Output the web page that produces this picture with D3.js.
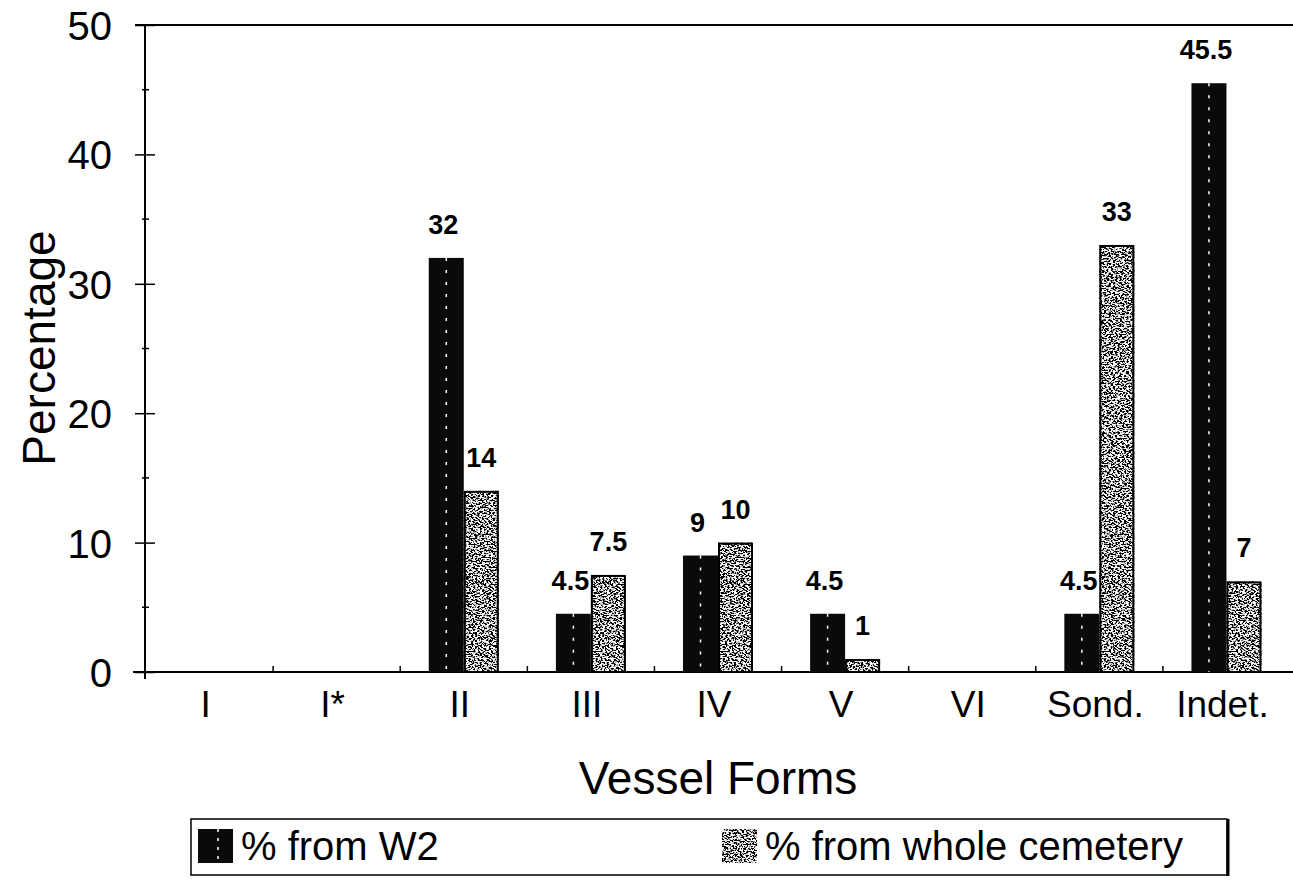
<!DOCTYPE html>
<html>
<head>
<meta charset="utf-8">
<script src="https://cdn.jsdelivr.net/npm/d3@7"></script>
<style>
    body { margin: 0; background: #fff; }
    text { font-family: "Liberation Sans", Arial, sans-serif; fill: #000; }
</style>
</head>
<body>
<svg id="chart"></svg>
<script>
    //-------------------
    // DATA
    //-------------------
    var categories = ["I", "I*", "II", "III", "IV", "V", "VI", "Sond.", "Indet."];
    var fromW2 = [null, null, 32, 4.5, 9, 4.5, null, 4.5, 45.5];
    var fromCemetery = [null, null, 14, 7.5, 10, 1, null, 33, 7];
    var seriesNames = ["% from W2", "% from whole cemetery"];
    var yTicks = [0, 10, 20, 30, 40, 50];

    //-------------------
    // SETUP
    //-------------------
    var width = 1293, height = 881;
    var plot = { left: 145, right: 1290, top: 25, bottom: 672 };

    var svg = d3.select("#chart")
        .attr("width", width)
        .attr("height", height);

    var defs = svg.append("defs");

    // speckled texture for the "whole cemetery" bars
    var filter = defs.append("filter")
        .attr("id", "speckle")
        .attr("x", 0).attr("y", 0).attr("width", 1).attr("height", 1);
    filter.append("feTurbulence")
        .attr("type", "fractalNoise")
        .attr("baseFrequency", "0.45 0.7")
        .attr("numOctaves", 2)
        .attr("seed", 7)
        .attr("result", "noise");
    filter.append("feColorMatrix")
        .attr("in", "noise")
        .attr("type", "matrix")
        .attr("values", "0 0 0 0 0  0 0 0 0 0  0 0 0 0 0  -9 0 0 0 5.1")
        .attr("result", "dots");
    filter.append("feFlood").attr("flood-color", "#fff").attr("result", "white");
    filter.append("feComposite").attr("in", "dots").attr("in2", "white").attr("operator", "over").attr("result", "tex");
    filter.append("feComposite").attr("in", "tex").attr("in2", "SourceGraphic").attr("operator", "in");

    var x = d3.scaleBand()
        .domain(categories)
        .range([plot.left + 1, plot.right]);

    var barW = 35;
    var x1 = d3.scaleBand()
        .domain([0, 1])
        .range([x.bandwidth() / 2 - barW, x.bandwidth() / 2 + barW]);

    var y = d3.scaleLinear()
        .domain([0, 50])
        .range([plot.bottom, plot.top]);

    //-------------------
    // AXES
    //-------------------
    // top border
    svg.append("line")
        .attr("x1", plot.left - 10).attr("x2", width)
        .attr("y1", y(50)).attr("y2", y(50))
        .attr("stroke", "#000").attr("stroke-width", 2);

    var yAxis = d3.axisLeft(y)
        .tickValues(yTicks)
        .tickSizeInner(10)
        .tickSizeOuter(0)
        .tickPadding(23);

    var gy = svg.append("g")
        .attr("transform", "translate(" + plot.left + ",0)")
        .call(yAxis);
    gy.select(".domain").remove();
    gy.selectAll(".tick line").attr("x2", 10).attr("x1", -10).attr("stroke-width", 1.5);
    gy.selectAll(".tick text")
        .style("font-size", "40px")
        .attr("dy", "0.36em");

    // y axis line
    svg.append("line")
        .attr("x1", plot.left).attr("x2", plot.left)
        .attr("y1", y(50)).attr("y2", plot.bottom + 7)
        .attr("stroke", "#000").attr("stroke-width", 2);

    // minor ticks
    svg.selectAll("line.minor")
        .data(d3.range(5, 50, 10))
        .enter().append("line")
        .attr("class", "minor")
        .attr("x1", plot.left - 3).attr("x2", plot.left + 4)
        .attr("y1", d => y(d)).attr("y2", d => y(d))
        .attr("stroke", "#000").attr("stroke-width", 1.5);

    // x axis line
    svg.append("line")
        .attr("x1", plot.left - 12).attr("x2", width)
        .attr("y1", plot.bottom).attr("y2", plot.bottom)
        .attr("stroke", "#000").attr("stroke-width", 2);

    // band divider ticks
    svg.selectAll("line.divider")
        .data(categories.slice(1))
        .enter().append("line")
        .attr("class", "divider")
        .attr("x1", d => x(d)).attr("x2", d => x(d))
        .attr("y1", plot.bottom).attr("y2", plot.bottom - 6)
        .attr("stroke", "#000").attr("stroke-width", 1.5);

    // category labels
    svg.selectAll("text.cat")
        .data(categories)
        .enter().append("text")
        .attr("class", "cat")
        .attr("x", d => x(d) + x.bandwidth() / 2 - 4)
        .attr("y", 717)
        .attr("text-anchor", "middle")
        .style("font-size", "37px")
        .text(d => d);

    // axis titles
    svg.append("text")
        .attr("x", 718).attr("y", 794)
        .attr("text-anchor", "middle")
        .style("font-size", "46px")
        .text("Vessel Forms");

    svg.append("text")
        .attr("transform", "translate(55,348) rotate(-90)")
        .attr("text-anchor", "middle")
        .style("font-size", "46px")
        .text("Percentage");

    //-------------------
    // BARS
    //-------------------
    var rows = categories.map((c, i) => ({ cat: c, vals: [fromW2[i], fromCemetery[i]] }));

    var groups = svg.selectAll("g.cat")
        .data(rows)
        .enter().append("g")
        .attr("class", "cat")
        .attr("transform", d => "translate(" + x(d.cat) + ",0)");

    var bars = groups.selectAll("g.bar")
        .data(d => d.vals.map((v, s) => ({ v: v, s: s })).filter(e => e.v !== null))
        .enter().append("g")
        .attr("class", "bar");

    bars.filter(d => d.s === 0).append("rect")
        .attr("x", d => x1(d.s))
        .attr("y", d => y(d.v))
        .attr("width", x1.bandwidth())
        .attr("height", d => plot.bottom - y(d.v))
        .attr("fill", "#0a0a0a");

    // white streak in the black bars
    bars.filter(d => d.s === 0).append("line")
        .attr("x1", d => x1(d.s) + x1.bandwidth() * 0.5)
        .attr("x2", d => x1(d.s) + x1.bandwidth() * 0.5)
        .attr("y1", d => y(d.v))
        .attr("y2", plot.bottom)
        .attr("stroke", "#fff")
        .attr("stroke-width", 1.5)
        .attr("stroke-dasharray", "3 9");

    bars.filter(d => d.s === 1).append("rect")
        .attr("x", d => x1(d.s))
        .attr("y", d => y(d.v))
        .attr("width", x1.bandwidth())
        .attr("height", d => plot.bottom - y(d.v))
        .attr("fill", "#000")
        .attr("filter", "url(#speckle)");

    bars.filter(d => d.s === 1).append("rect")
        .attr("x", d => x1(d.s) + 1)
        .attr("y", d => y(d.v) + 1)
        .attr("width", x1.bandwidth() - 2)
        .attr("height", d => plot.bottom - y(d.v) - 1)
        .attr("fill", "none")
        .attr("stroke", "#000")
        .attr("stroke-width", 2);

    // value labels
    bars.append("text")
        .attr("x", d => x1(d.s) + x1.bandwidth() / 2 - (d.s === 0 ? 3 : 0))
        .attr("y", d => y(d.v) - 24)
        .attr("text-anchor", "middle")
        .style("font-size", "27px")
        .style("font-weight", "bold")
        .text(d => d.v);

    //-------------------
    // LEGEND
    //-------------------
    var legend = svg.append("g");
    legend.append("rect")
        .attr("x", 191).attr("y", 819)
        .attr("width", 1036).attr("height", 56)
        .attr("fill", "none")
        .attr("stroke", "#000").attr("stroke-width", 1.5);
    legend.append("line")
        .attr("x1", 1228).attr("x2", 1228)
        .attr("y1", 819).attr("y2", 876)
        .attr("stroke", "#000").attr("stroke-width", 3);

    var legendX = [198, 722];
    seriesNames.forEach((name, i) => {
        var sw = legend.append("rect")
            .attr("x", legendX[i]).attr("y", 829)
            .attr("width", 35).attr("height", 34)
            .attr("fill", i === 0 ? "#0a0a0a" : "#000");
        if (i === 1) {
            sw.attr("filter", "url(#speckle)");
        } else {
            legend.append("line")
                .attr("x1", legendX[i] + 20).attr("x2", legendX[i] + 20)
                .attr("y1", 829).attr("y2", 863)
                .attr("stroke", "#fff").attr("stroke-width", 1.5)
                .attr("stroke-dasharray", "3 6");
        }
        legend.append("text")
            .attr("x", legendX[i] + 43).attr("y", 860)
            .style("font-size", "40px")
            .text(name);
    });
</script>
</body>
</html>
